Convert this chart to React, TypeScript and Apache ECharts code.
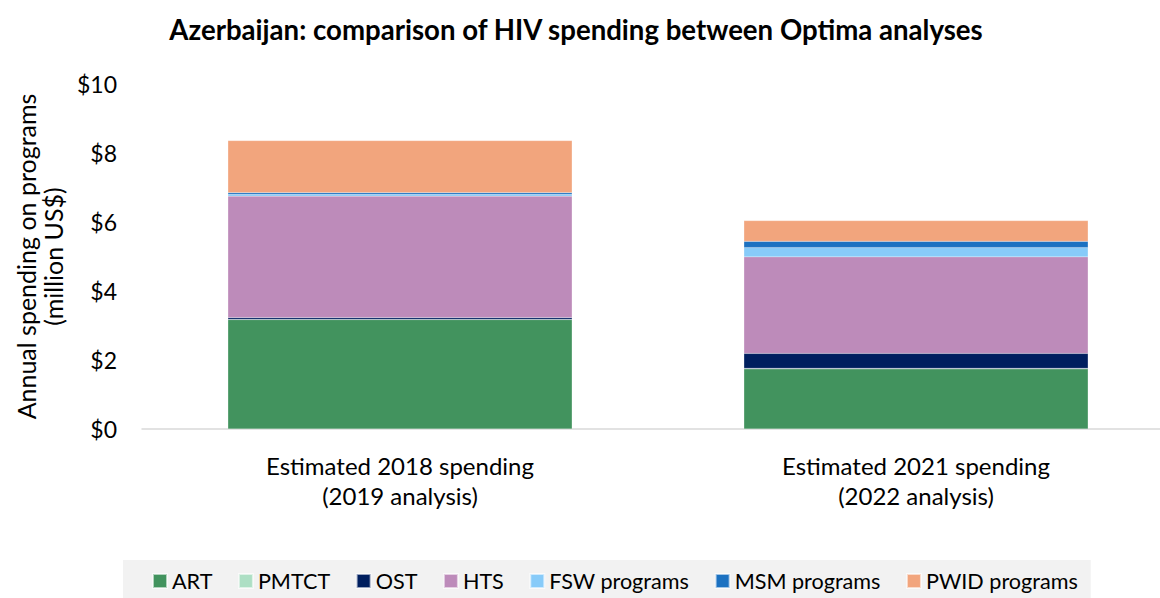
import React, { useEffect, useRef } from "react";
import * as echarts from "echarts";

const categories = ["Estimated 2018 spending\n(2019 analysis)", "Estimated 2021 spending\n(2022 analysis)"];
const seriesNames = ["ART", "PMTCT", "OST", "HTS", "FSW programs", "MSM programs", "PWID programs"];
const seriesColors = ["#42935E", "#ADDFC4", "#001F5F", "#BD8BBA", "#87CBF9", "#1B71C1", "#F2A57D"];
const artValues = [3.17, 1.74];
const pmtctValues = [0.01, 0.02];
const ostValues = [0.05, 0.43];
const htsValues = [3.52, 2.8];
const fswValues = [0.05, 0.27];
const msmValues = [0.05, 0.18];
const pwidValues = [1.51, 0.6];
const yTicks = { min: 0, max: 10, interval: 2 };

const allValues = [artValues, pmtctValues, ostValues, htsValues, fswValues, msmValues, pwidValues];

const FONT = "Lato";

export default function App() {
  const ref = useRef<HTMLDivElement>(null);
  useEffect(() => {
    document.body.style.margin = "0";
    const chart = echarts.init(ref.current!, null, { renderer: "svg" });
    chart.setOption({
      animation: false,
      textStyle: { fontFamily: FONT },
      title: {
        text: "Azerbaijan: comparison of HIV spending between Optima analyses",
        left: 571,
        textAlign: "center",
        top: 10,
        textStyle: { fontFamily: FONT, fontSize: 27.6, fontWeight: "bold", color: "#000" },
      },
      grid: { left: 142, right: -14, top: 84, bottom: 169, containLabel: false, outerBoundsMode: "none" },
      legend: {
        left: 123,
        top: 560,
        width: 960,
        padding: [10, 13, 12, 29],
        backgroundColor: "#F2F2F2",
        itemWidth: 14,
        itemHeight: 14,
        itemGap: 25.5,
        icon: "rect",
        textStyle: { fontFamily: FONT, fontSize: 21.6, color: "#000", padding: [0, 0, 0, 0] },
        data: seriesNames,
      },
      xAxis: {
        type: "category",
        data: categories,
        axisLine: { lineStyle: { color: "#D9D9D9", width: 1.5 } },
        axisTick: { show: false },
        axisLabel: { fontFamily: FONT, fontSize: 24, color: "#000", lineHeight: 30, margin: 21 },
      },
      yAxis: {
        type: "value",
        min: yTicks.min,
        max: yTicks.max,
        interval: yTicks.interval,
        splitLine: { show: false },
        axisLabel: { fontFamily: FONT, fontSize: 23, color: "#000", margin: 25, formatter: (v: number) => "$" + v },
        name: "Annual spending on programs\n(million US$)",
        nameLocation: "middle",
        nameGap: 75,
        nameTextStyle: { fontFamily: FONT, fontSize: 25, color: "#000", lineHeight: 27 },
      },
      series: seriesNames.map((n, i) => ({
        name: n,
        type: "bar",
        stack: "total",
        barWidth: "66.7%",
        data: allValues[i],
        itemStyle: { color: seriesColors[i], borderColor: "rgba(255,255,255,0.6)", borderWidth: 0.3 },
      })),
    });
    return () => chart.dispose();
  }, []);
  return <div ref={ref} style={{ width: 1160, height: 598 }} />;
}
